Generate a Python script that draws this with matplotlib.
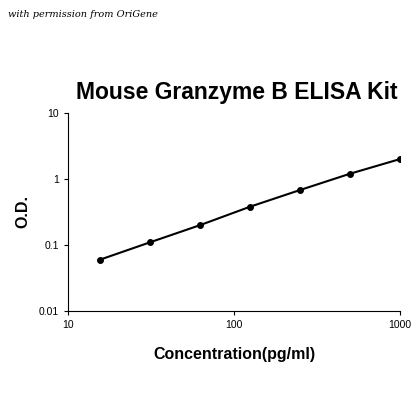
import matplotlib
matplotlib.use("Agg")
import matplotlib.pyplot as plt
from matplotlib.ticker import FixedLocator, NullLocator

plt.rcParams["font.family"] = ["Liberation Sans", "DejaVu Sans"]

conc = [15.6, 31.25, 62.5, 125, 250, 500, 1000]
od = [0.06, 0.11, 0.20, 0.38, 0.68, 1.2, 2.0]
xticks = [10, 100, 1000]
yticks = [0.01, 0.1, 1, 10]
ylabels = ["0.01", "0.1", "1", "10"]

fig = plt.figure(figsize=(4.2, 4.2), dpi=100)
ax = fig.add_axes([0.162, 0.2595, 0.79, 0.4715])
ax.plot(conc, od, color="black", lw=1.5, marker="o", ms=4)
ax.set_xscale("log"); ax.set_yscale("log")
ax.set_xlim(10, 1000); ax.set_ylim(0.01, 10)
ax.xaxis.set_major_locator(FixedLocator(xticks))
ax.yaxis.set_major_locator(FixedLocator(yticks))
ax.xaxis.set_minor_locator(NullLocator()); ax.yaxis.set_minor_locator(NullLocator())
ax.set_xticklabels([str(t) for t in xticks], fontsize=7.5)
ax.set_yticklabels(ylabels, fontsize=7.5)
ax.tick_params(direction="out", length=3, width=0.8)
for s in ["top", "right"]:
    ax.spines[s].set_visible(False)
ax.set_xlabel("Concentration(pg/ml)", fontsize=11.5, fontweight="bold", labelpad=12)
ax.set_ylabel("O.D.", fontsize=11.5, fontweight="bold", labelpad=6)
fig.text(0.565, 0.78, "Mouse Granzyme B ELISA Kit", ha="center", va="center",
         fontsize=16.5, fontweight="bold")
fig.text(0.02, 0.965, "with permission from OriGene", ha="left", va="center",
         fontsize=7, style="italic", family="DejaVu Serif")
fig.savefig("out.png", dpi=100)
